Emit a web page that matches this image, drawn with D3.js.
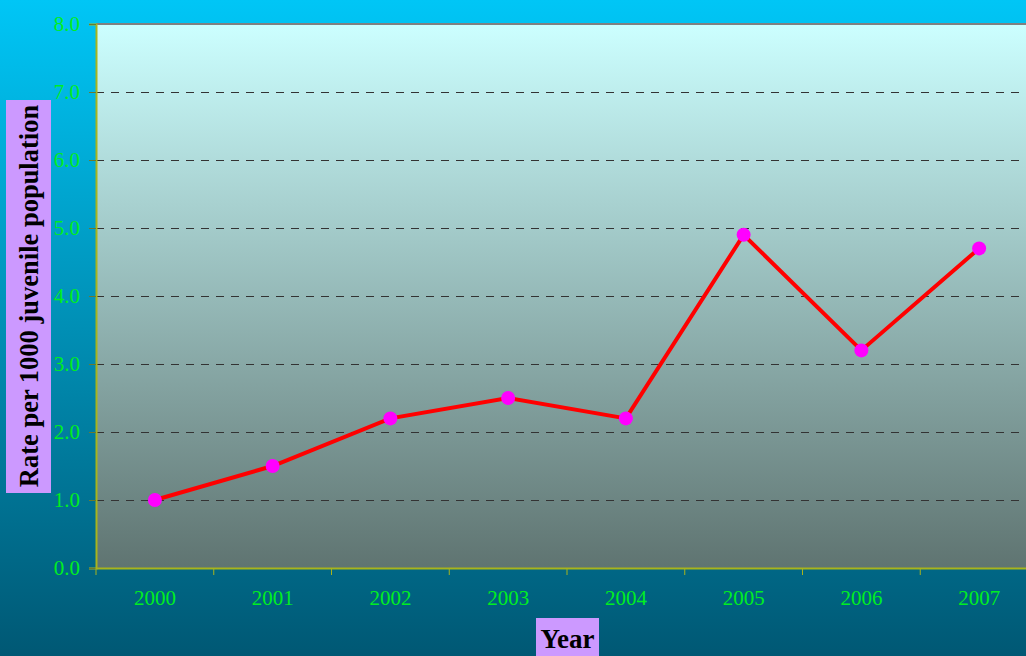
<!DOCTYPE html>
<html>
<head>
<meta charset="utf-8">
<script src="https://cdn.jsdelivr.net/npm/d3@7.9.0/dist/d3.min.js"></script>
<style>
  html, body { margin: 0; padding: 0; overflow: hidden; }
  svg { display: block; }
</style>
</head>
<body>
<svg id="chart" width="1026" height="656"></svg>
<script>
const years = ['2000', '2001', '2002', '2003', '2004', '2005', '2006', '2007'];
const rates = [1.0, 1.5, 2.2, 2.5, 2.2, 4.9, 3.2, 4.7];
const yTicks = [0, 1, 2, 3, 4, 5, 6, 7, 8];

let width = 1026;
let height = 656;
let margin = { top: 24, left: 96, bottom: 88 };
let plotRight = 1038;

let svg = d3.select('#chart');
let defs = svg.append('defs');

let bgGrad = defs.append('linearGradient')
  .attr('id', 'bg').attr('x1', 0).attr('y1', 0).attr('x2', 0).attr('y2', 1);
bgGrad.append('stop').attr('offset', '0%').attr('stop-color', '#00c6f6');
bgGrad.append('stop').attr('offset', '100%').attr('stop-color', '#005874');

let plotGrad = defs.append('linearGradient')
  .attr('id', 'plotbg').attr('x1', 0).attr('y1', 0).attr('x2', 0).attr('y2', 1);
plotGrad.append('stop').attr('offset', '0%').attr('stop-color', '#ccffff');
plotGrad.append('stop').attr('offset', '100%').attr('stop-color', '#5f7471');

svg.append('rect')
  .attr('width', width).attr('height', height)
  .attr('fill', 'url(#bg)');

let x = d3.scaleBand()
  .domain(years)
  .range([margin.left, plotRight]);

let y = d3.scaleLinear()
  .domain([0, 8])
  .range([height - margin.bottom, margin.top]);

// plot area
svg.append('rect')
  .attr('x', margin.left).attr('y', y(8))
  .attr('width', plotRight - margin.left)
  .attr('height', y(0) - y(8))
  .attr('fill', 'url(#plotbg)');

// top border
svg.append('line')
  .attr('x1', margin.left).attr('x2', plotRight)
  .attr('y1', y(8)).attr('y2', y(8))
  .attr('stroke', '#808080').attr('stroke-width', 2);

// dashed gridlines
svg.append('g')
  .selectAll('line')
  .data(yTicks.filter((d) => d > 0 && d < 8))
  .join('line')
  .attr('x1', margin.left).attr('x2', plotRight)
  .attr('y1', (d) => y(d) + 0.5).attr('y2', (d) => y(d) + 0.5)
  .attr('stroke', '#333')
  .attr('stroke-dasharray', '8,7');

// y axis
let yAxis = svg.append('g')
  .attr('transform', `translate(${margin.left},0)`)
  .call(d3.axisLeft(y).tickValues(yTicks).tickFormat(d3.format('.1f')).tickSize(7).tickPadding(9));
yAxis.select('.domain').attr('stroke', '#a8b41c').attr('stroke-width', 2);
yAxis.selectAll('.tick line').attr('stroke', '#6b7a30');
yAxis.selectAll('.tick text')
  .attr('fill', '#00ee22')
  .style('font-family', '"Liberation Serif", serif')
  .style('font-size', '21px');

// x axis
let xAxis = svg.append('g')
  .attr('transform', `translate(0,${y(0)})`)
  .call(d3.axisBottom(x).tickSize(0).tickPadding(22));
xAxis.select('.domain').attr('stroke', '#a8b41c').attr('stroke-width', 2);
xAxis.selectAll('.tick text')
  .attr('fill', '#00ee22')
  .style('font-family', '"Liberation Serif", serif')
  .style('font-size', '21px');

// category separator ticks
svg.append('g')
  .selectAll('line')
  .data(years)
  .join('line')
  .attr('x1', (d) => x(d)).attr('x2', (d) => x(d))
  .attr('y1', y(0)).attr('y2', y(0) + 7)
  .attr('stroke', '#a8b41c');

// line
let line = d3.line()
  .x((d, i) => x(years[i]) + x.bandwidth() / 2)
  .y((d) => y(d));

svg.append('path')
  .datum(rates)
  .attr('d', line)
  .attr('fill', 'none')
  .attr('stroke', '#ff0000')
  .attr('stroke-width', 4);

svg.append('g')
  .selectAll('circle')
  .data(rates)
  .join('circle')
  .attr('cx', (d, i) => x(years[i]) + x.bandwidth() / 2)
  .attr('cy', (d) => y(d))
  .attr('r', 7)
  .attr('fill', '#ff00ff');

// y axis title
svg.append('rect')
  .attr('x', 6).attr('y', 100).attr('width', 45).attr('height', 393)
  .attr('fill', '#cc99ff');
svg.append('text')
  .attr('transform', 'translate(38,296) rotate(-90)')
  .attr('text-anchor', 'middle')
  .style('font-family', '"Liberation Serif", serif')
  .style('font-weight', 'bold')
  .style('font-size', '26.5px')
  .attr('fill', '#000')
  .text('Rate per 1000 juvenile population');

// x axis title
svg.append('rect')
  .attr('x', 536).attr('y', 618).attr('width', 63).attr('height', 40)
  .attr('fill', '#cc99ff');
svg.append('text')
  .attr('x', 567.5).attr('y', 648)
  .attr('text-anchor', 'middle')
  .style('font-family', '"Liberation Serif", serif')
  .style('font-weight', 'bold')
  .style('font-size', '27px')
  .attr('fill', '#000')
  .text('Year');
</script>
</body>
</html>
